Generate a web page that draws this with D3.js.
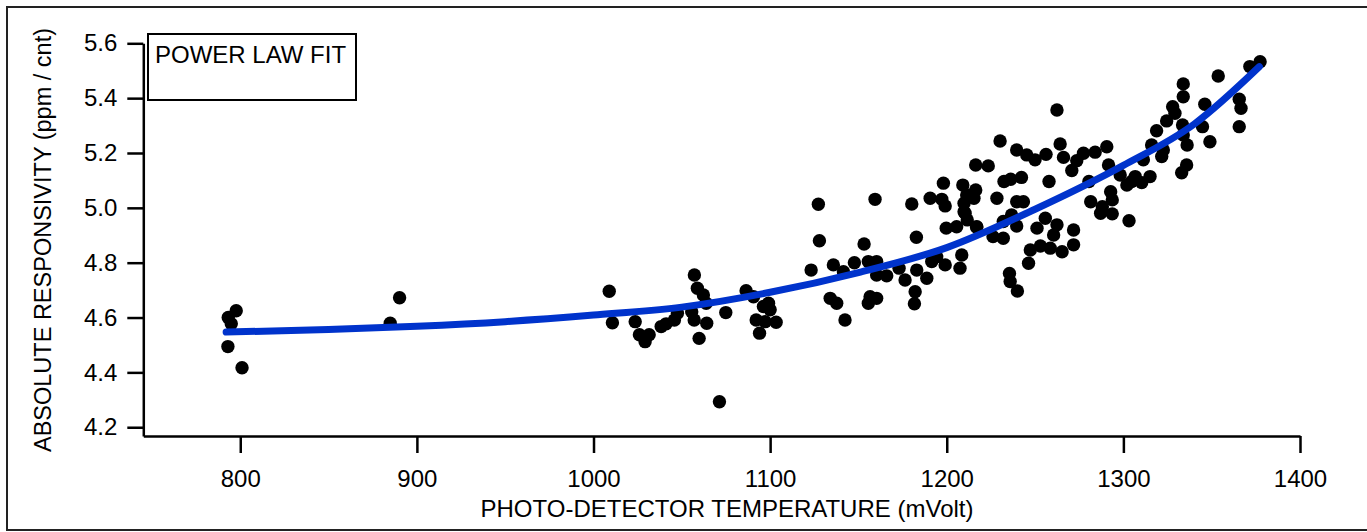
<!DOCTYPE html>
<html>
<head>
<meta charset="utf-8">
<script src="https://cdn.jsdelivr.net/npm/d3@7"></script>
<style>
  body { margin: 0; background: #fff; }
  svg text { font-family: "Liberation Sans", Arial, sans-serif; fill: #000; }
</style>
</head>
<body>
<svg id="chart" width="1367" height="532"></svg>
<script>
// photo-detector temperature (mVolt) vs absolute responsivity (ppm / cnt)
const tempX = [
  793.2, 797.7, 794.9, 793.0, 801.0, 884.9, 890.2,
  1008.9, 1010.7, 1023.6, 1026.0, 1031.5, 1029.2, 1038.3, 1041.1, 1045.8, 1047.5,
  1057.1, 1058.8, 1062.2, 1063.8, 1055.6, 1057.0, 1064.1, 1059.8, 1074.9, 1071.3,
  1086.4, 1090.6, 1099.1, 1100.0, 1092.1, 1097.2, 1103.4, 1094.0, 1096.2,
  1127.3, 1127.9, 1123.2, 1135.8, 1141.5, 1134.0, 1137.7, 1142.4, 1147.7, 1153.2,
  1159.4, 1155.6, 1160.3, 1160.3, 1166.0, 1156.6, 1155.6, 1160.3,
  1180.2, 1182.8, 1176.4, 1173.0, 1183.0, 1188.7, 1182.1, 1181.7, 1191.5,
  1198.1, 1190.6, 1197.2, 1199.1, 1199.7, 1199.1, 1207.5, 1208.5, 1205.6, 1210.4,
  1209.1, 1211.3, 1214.1, 1217.0, 1194.3,
  1230.2, 1239.6, 1245.3, 1250.0, 1256.2, 1264.2, 1266.1, 1270.8, 1273.6, 1277.4,
  1284.0, 1290.6, 1291.6, 1298.2, 1302.0, 1306.7, 1216.4, 1223.5, 1232.4, 1236.2,
  1242.3, 1257.9, 1216.4, 1215.4, 1209.8, 1228.4, 1239.6, 1243.4, 1209.8, 1211.6,
  1216.9, 1236.7, 1232.0, 1239.6, 1226.2, 1232.0, 1255.8, 1251.1, 1262.4, 1260.5,
  1271.8, 1271.8, 1265.3, 1258.6, 1253.0, 1247.3, 1246.3, 1235.5, 1235.9, 1240.0,
  1280.5, 1281.5, 1288.1, 1292.8, 1293.7, 1287.1, 1293.7, 1303.2, 1262.4,
  1333.9, 1333.9, 1353.7, 1371.6, 1377.4, 1327.9, 1329.2, 1324.5, 1318.8, 1316.0,
  1311.3, 1333.5, 1346.1, 1344.8, 1349.0, 1336.1, 1333.9, 1322.6, 1321.7, 1335.8,
  1333.0, 1365.6, 1366.6, 1365.6, 1304.7, 1310.4, 1315.1
];
const responsivity = [
  4.600, 4.625, 4.577, 4.494, 4.417, 4.579, 4.672,
  4.696, 4.581, 4.585, 4.537, 4.537, 4.512, 4.567, 4.577, 4.591, 4.616,
  4.755, 4.707, 4.682, 4.652, 4.621, 4.591, 4.579, 4.524, 4.618, 4.293,
  4.698, 4.676, 4.652, 4.628, 4.591, 4.585, 4.583, 4.543, 4.640,
  5.013, 4.880, 4.773, 4.792, 4.767, 4.670, 4.652, 4.591, 4.800, 4.868,
  5.031, 4.804, 4.804, 4.755, 4.752, 4.676, 4.652, 4.670,
  5.014, 4.893, 4.737, 4.780, 4.773, 4.743, 4.694, 4.650, 4.804,
  5.090, 5.035, 5.031, 5.007, 4.926, 4.792, 4.780, 4.828, 4.931, 4.980,
  5.083, 5.047, 5.047, 4.931, 4.822,
  5.244, 5.211, 5.193, 5.175, 5.195, 5.233, 5.184, 5.136, 5.172, 5.199,
  5.203, 5.223, 5.156, 5.120, 5.083, 5.114, 5.156, 5.153, 5.096, 5.104,
  5.111, 5.096, 5.065, 5.035, 5.017, 5.035, 5.022, 5.022, 4.986, 4.956,
  4.929, 4.974, 4.950, 4.934, 4.895, 4.889, 4.962, 4.926, 4.938, 4.901,
  4.919, 4.865, 4.840, 4.853, 4.861, 4.846, 4.798, 4.761, 4.731, 4.697,
  5.096, 5.022, 5.004, 5.059, 5.029, 4.980, 4.978, 4.953, 5.357,
  5.452, 5.405, 5.481, 5.515, 5.533, 5.369, 5.345, 5.317, 5.281, 5.229,
  5.175, 5.302, 5.378, 5.296, 5.241, 5.229, 5.266, 5.211, 5.187, 5.156,
  5.128, 5.396, 5.363, 5.296, 5.096, 5.092, 5.114
];

// power law fit curve
const fitX = [792, 850, 900, 950, 1000, 1050, 1100, 1150, 1200, 1250, 1300, 1340, 1377];
const fitY = [4.547, 4.556, 4.568, 4.585, 4.609, 4.638, 4.692, 4.764, 4.855, 4.995, 5.155, 5.305, 5.515];

const xTicks = [800, 900, 1000, 1100, 1200, 1300, 1400];
const yTicks = [4.2, 4.4, 4.6, 4.8, 5.0, 5.2, 5.4, 5.6];

const svg = d3.select('#chart');

// outer frame
svg.append('rect')
  .attr('x', 7).attr('y', 7)
  .attr('width', 1380).attr('height', 523)
  .attr('fill', 'none')
  .attr('stroke', '#222')
  .attr('stroke-width', 2);

const x = d3.scaleLinear().domain([745.1, 1400]).range([143.3, 1300]);
const y = d3.scaleLinear().domain([4.168, 5.6]).range([436, 43.3]);

const xAxis = svg.append('g')
  .attr('transform', 'translate(0,436)')
  .call(d3.axisBottom(x).tickValues(xTicks).tickSize(17).tickSizeOuter(0).tickPadding(17)
    .tickFormat(d3.format('d')));

const yAxis = svg.append('g')
  .attr('transform', 'translate(143.3,0)')
  .call(d3.axisLeft(y).tickValues(yTicks).tickSize(16).tickSizeOuter(0).tickPadding(10)
    .tickFormat(d3.format('.1f')));

[xAxis, yAxis].forEach(g => {
  g.selectAll('path, line').attr('stroke', '#000').attr('stroke-width', 2.5);
  g.selectAll('text')
    .attr('font-size', 24)
    .attr('font-family', '"Liberation Sans", Arial, sans-serif')
    .attr('fill', '#000');
});

// points
svg.append('g')
  .selectAll('circle')
  .data(d3.range(tempX.length))
  .enter()
  .append('circle')
  .attr('cx', i => x(tempX[i]))
  .attr('cy', i => y(responsivity[i]))
  .attr('r', 6.7)
  .attr('fill', '#000');

// fit line
const line = d3.line()
  .x(i => x(fitX[i]))
  .y(i => y(fitY[i]))
  .curve(d3.curveMonotoneX);

svg.append('path')
  .datum(d3.range(fitX.length))
  .attr('d', line)
  .attr('fill', 'none')
  .attr('stroke', '#0033cc')
  .attr('stroke-width', 7)
  .attr('stroke-linecap', 'round');

// legend box
svg.append('rect')
  .attr('x', 148).attr('y', 34)
  .attr('width', 208).attr('height', 66)
  .attr('fill', '#fff')
  .attr('stroke', '#000')
  .attr('stroke-width', 2);

svg.append('text')
  .attr('x', 155).attr('y', 63)
  .attr('font-size', 24)
  .text('POWER LAW FIT');

// axis titles
svg.append('text')
  .attr('x', 727).attr('y', 517)
  .attr('text-anchor', 'middle')
  .attr('font-size', 24)
  .text('PHOTO-DETECTOR TEMPERATURE (mVolt)');

svg.append('text')
  .attr('transform', 'translate(51,240) rotate(-90)')
  .attr('text-anchor', 'middle')
  .attr('font-size', 23.5)
  .text('ABSOLUTE RESPONSIVITY (ppm / cnt)');
</script>
</body>
</html>
